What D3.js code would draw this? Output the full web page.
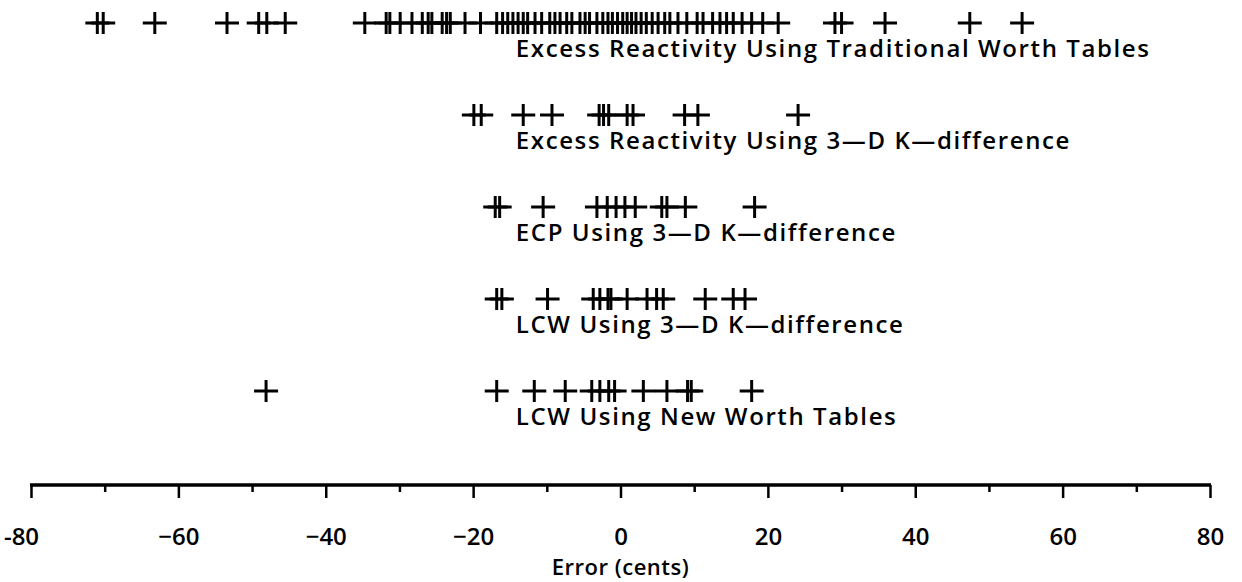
<!DOCTYPE html>
<html>
<head>
<meta charset="utf-8">
<script src="https://cdn.jsdelivr.net/npm/d3@7"></script>
<style>
  html, body { margin: 0; padding: 0; background: #fff; }
  svg { display: block; }
  text { font-family: "Open Sans", "DejaVu Sans", sans-serif; fill: #000; }
</style>
</head>
<body>
<svg id="chart" width="1242" height="582"></svg>
<script>
// ---- data ----
const seriesNames = [
  "Excess Reactivity Using Traditional Worth Tables",
  "Excess Reactivity Using 3\u2014D K\u2014difference",
  "ECP Using 3\u2014D K\u2014difference",
  "LCW Using 3\u2014D K\u2014difference",
  "LCW Using New Worth Tables"
];
const excessTraditional = [-71.0, -70.2, -63.2, -53.4, -49.1, -48.0, -45.5,
  -34.7, -31.8, -31.3, -29.9, -28.3, -26.9, -26.1, -25.6, -24.2, -23.6, -23.1, -21.1, -19.0,
  -16.8, -16.0, -15.3, -14.6, -13.9, -13.2, -12.6, -11.6, -10.7, -9.6, -8.9, -8.2,
  -7.3, -6.6, -5.5, -4.8, -4.2, -3.2, -2.4, -1.7, -1.1, -0.4, 0.3, 0.9, 1.5, 2.1,
  2.8, 3.5, 4.3, 5.1, 6.0, 6.7, 7.8, 9.0, 10.4, 11.2, 12.5, 13.5, 14.4, 15.3, 16.5,
  17.8, 19.3, 21.4, 29.1, 30.0, 35.9, 47.4, 54.5];
const excess3D = [-19.9, -18.9, -13.2, -9.3, -2.9, -2.3, -1.6, 0.9, 1.7, 8.7, 10.5, 24.1];
const ecp3D = [-17.0, -16.4, -10.5, -3.2, -1.8, -0.6, 0.6, 2.0, 5.6, 6.3, 8.8, 18.2];
const lcw3D = [-16.8, -16.1, -9.9, -3.7, -2.8, -1.7, -1.3, 0.9, 3.6, 4.9, 5.8, 11.5, 15.3, 16.9];
const lcwNew = [-48.1, -16.8, -11.7, -7.5, -3.9, -2.8, -1.6, -0.8, 3.1, 6.3, 9.1, 9.6, 17.8];
const seriesValues = [excessTraditional, excess3D, ecp3D, lcw3D, lcwNew];
const majorTicks = [-80, -60, -40, -20, 0, 20, 40, 60, 80];
const tickLabels = ["-80", "\u221260", "\u221240", "\u221220", "0", "20", "40", "60", "80"];
const minorTicks = [-70, -50, -30, -10, 10, 30, 50, 70];
const xTitle = "Error (cents)";

// ---- layout ----
const svg = d3.select("#chart");
const x = d3.scaleLinear().domain([-80, 80]).range([31, 1210]);
const y = d3.scaleBand().domain(d3.range(seriesNames.length)).range([-23, 437]);
const axisY = 485;

// rows
const rows = svg.selectAll("g.row").data(seriesValues).join("g")
  .attr("class", "row")
  .attr("transform", (d, i) => `translate(0,${y(i) + y.bandwidth() / 2})`);

rows.each(function(vals) {
  const g = d3.select(this);
  const pts = g.selectAll("g.pt").data(vals).join("g").attr("class", "pt")
    .attr("transform", d => `translate(${x(d)},0)`);
  pts.append("line").attr("x1", -12).attr("x2", 12).attr("y1", 0).attr("y2", 0)
    .attr("stroke", "#000").attr("stroke-width", 3);
  pts.append("line").attr("x1", 0).attr("x2", 0).attr("y1", -11).attr("y2", 11)
    .attr("stroke", "#000").attr("stroke-width", 3);
});

rows.append("text")
  .attr("x", x(-14.2))
  .attr("y", 34)
  .attr("font-size", 24)
  .attr("font-weight", 600)
  .attr("letter-spacing", 1.6)
  .text((d, i) => seriesNames[i]);

// axis
const major = d3.axisBottom(x).tickValues(majorTicks).tickSize(13).tickPadding(30)
  .tickFormat((d, i) => tickLabels[i]);
const minor = d3.axisBottom(x).tickValues(minorTicks).tickSize(7).tickFormat("");

const gMinor = svg.append("g").attr("transform", `translate(0,${axisY})`).call(minor);
const gMajor = svg.append("g").attr("transform", `translate(0,${axisY})`).call(major);
[gMinor, gMajor].forEach(g => {
  g.select(".domain").remove();
  g.selectAll(".tick line").attr("stroke", "#000").attr("stroke-width", 2.5);
});
gMajor.selectAll(".tick text")
  .attr("font-size", 24).attr("font-weight", 600)
  .attr("font-family", "'Open Sans', sans-serif").attr("fill", "#000")
  .attr("dx", (d, i) => i === 0 ? -10 : 0);
svg.append("line").attr("x1", x(-80) - 1).attr("x2", x(80) + 1)
  .attr("y1", axisY).attr("y2", axisY)
  .attr("stroke", "#000").attr("stroke-width", 3.5);

svg.append("text")
  .attr("x", x(0))
  .attr("y", 575)
  .attr("text-anchor", "middle")
  .attr("font-size", 22)
  .attr("font-weight", 600)
  .attr("letter-spacing", 0.5)
  .text(xTitle);
</script>
</body>
</html>
